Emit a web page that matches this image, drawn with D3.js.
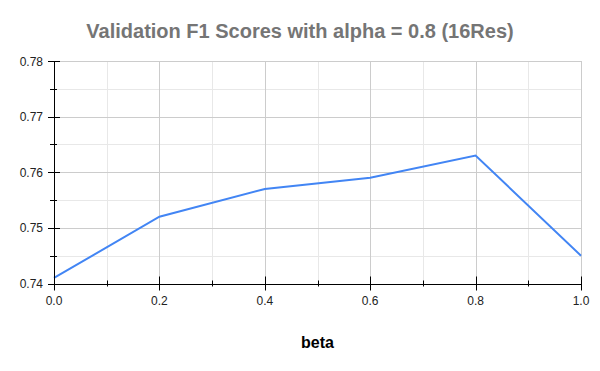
<!DOCTYPE html>
<html><head><meta charset="utf-8">
<script src="https://cdn.jsdelivr.net/npm/d3@7"></script>
<style>body{margin:0;background:#fff}svg{display:block;font-family:"Liberation Sans",Arial,sans-serif}</style>
</head><body><svg id="c" width="600" height="371"></svg>
<script>
const betas = [0.0, 0.2, 0.4, 0.6, 0.8, 1.0];
const f1Scores = [0.741, 0.752, 0.757, 0.759, 0.763, 0.745];
const xTicks = [0.0, 0.2, 0.4, 0.6, 0.8, 1.0];
const xMinor = [0.1, 0.3, 0.5, 0.7, 0.9];
const yTicks = [0.74, 0.75, 0.76, 0.77, 0.78];
const yMinor = [0.745, 0.755, 0.765, 0.775];
const title = "Validation F1 Scores with alpha = 0.8 (16Res)";
const xLabel = "beta";

const svg = d3.select("#c");
const L = 54, R = 581, T = 61, B = 283.5;
const x = d3.scaleLinear().domain([0, 1]).range([L, R]);
const y = d3.scaleLinear().domain([0.74, 0.78]).range([B, T]);

const g = svg.append("g");
// minor grid
g.selectAll(".mx").data(xMinor).join("line").attr("x1", d => Math.round(x(d)) + 0.5).attr("x2", d => Math.round(x(d)) + 0.5)
  .attr("y1", T).attr("y2", B).attr("stroke", "#e8e8e8");
g.selectAll(".my").data(yMinor).join("line").attr("y1", d => Math.round(y(d)) + 0.5).attr("y2", d => Math.round(y(d)) + 0.5)
  .attr("x1", L).attr("x2", R).attr("stroke", "#e8e8e8");
// major grid
g.selectAll(".gx").data(xTicks.slice(1)).join("line").attr("x1", d => Math.round(x(d)) + 0.5).attr("x2", d => Math.round(x(d)) + 0.5)
  .attr("y1", T).attr("y2", B).attr("stroke", "#cccccc");
g.selectAll(".gy").data(yTicks.slice(1)).join("line").attr("y1", d => Math.round(y(d)) + 0.5).attr("y2", d => Math.round(y(d)) + 0.5)
  .attr("x1", L).attr("x2", R).attr("stroke", "#cccccc");

// line
const line = d3.line().x((d, i) => x(betas[i])).y(d => y(d));
svg.append("path").datum(f1Scores).attr("d", line).attr("fill", "none")
  .attr("stroke", "#4285f4").attr("stroke-width", 2).attr("stroke-linejoin", "miter");

// axes
const ax = svg.append("g").attr("stroke", "#000").attr("stroke-width", 1);
ax.append("line").attr("x1", L).attr("x2", R + 0.5).attr("y1", Math.round(B) + 0.5).attr("y2", Math.round(B) + 0.5);
ax.append("line").attr("x1", L + 0.5).attr("x2", L + 0.5).attr("y1", T).attr("y2", B);
ax.selectAll(".tx").data(xTicks).join("line").attr("x1", d => Math.round(x(d)) + 0.5).attr("x2", d => Math.round(x(d)) + 0.5)
  .attr("y1", B - 7).attr("y2", B + 7);
ax.selectAll(".tmx").data(xMinor).join("line").attr("x1", d => Math.round(x(d)) + 0.5).attr("x2", d => Math.round(x(d)) + 0.5)
  .attr("y1", B - 3).attr("y2", B + 3);
ax.selectAll(".ty").data(yTicks).join("line").attr("y1", d => Math.round(y(d)) + 0.5).attr("y2", d => Math.round(y(d)) + 0.5)
  .attr("x1", L - 6).attr("x2", L + 6);
ax.selectAll(".tmy").data(yMinor).join("line").attr("y1", d => Math.round(y(d)) + 0.5).attr("y2", d => Math.round(y(d)) + 0.5)
  .attr("x1", L - 4).attr("x2", L + 3);

// tick labels
svg.selectAll(".lx").data(xTicks).join("text").attr("x", d => x(d)).attr("y", 305)
  .attr("text-anchor", "middle").attr("font-size", 12).attr("fill", "#222").text(d => d.toFixed(1));
svg.selectAll(".ly").data(yTicks).join("text").attr("x", 43).attr("y", d => y(d) + 4.5)
  .attr("text-anchor", "end").attr("font-size", 12).attr("fill", "#222").text(d => d.toFixed(2));

// title
svg.append("text").attr("x", 300).attr("y", 38).attr("text-anchor", "middle")
  .attr("font-size", 20).attr("font-weight", "bold").attr("fill", "#757575").text(title);
svg.append("text").attr("x", (L + R) / 2).attr("y", 348).attr("text-anchor", "middle")
  .attr("font-size", 16).attr("font-weight", "bold").attr("fill", "#000").text(xLabel);
</script></body></html>
